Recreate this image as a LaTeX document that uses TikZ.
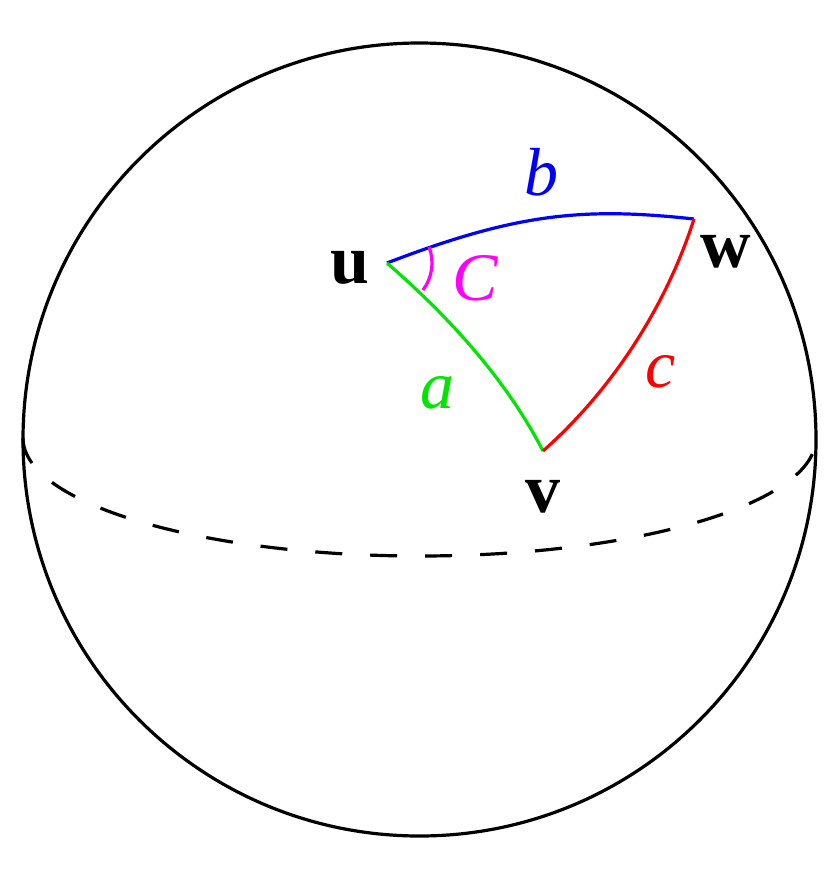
\documentclass[tikz,border=0pt]{standalone}
\usepackage{fontspec}
\setmainfont{Liberation Serif}
\definecolor{pmagenta}{RGB}{255,0,255}
\definecolor{pgreen}{RGB}{0,230,0}
\begin{document}
\begin{tikzpicture}[x=1pt,y=1pt,
  outline/.style={line width=3.2pt,black},
  equator/.style={line width=3.2pt,black,dash pattern=on 27pt off 28pt},
  side/.style={line width=3.2pt},
  vlabel/.style={anchor=base,inner sep=0pt,font=\fontsize{70}{80}\selectfont\bfseries},
  slabel/.style={anchor=base,inner sep=0pt,font=\fontsize{68}{78}\selectfont\itshape}]
\useasboundingbox (0,0) rectangle (840,-879);
\fill[white] (0,0) rectangle (840,-879);
\coordinate (O) at (419.5,-439.5);
\coordinate (E) at (419.5,-438);
\coordinate (u) at (387,-263);
\coordinate (v) at (543,-451);
\coordinate (w) at (694,-219);
\draw[outline] (O) circle[radius=396.5];
\draw[equator] ([xshift=-396.5pt]E) arc[start angle=180,end angle=360,x radius=396.5,y radius=118];
% sides
\draw[side,blue] (u) .. controls (517,-213) and (584,-207) .. (w);
\draw[side,pgreen] (u) .. controls (448,-316) and (506,-379) .. (v);
\draw[side,red] (v) .. controls (612,-390) and (666,-306.5) .. (w);
% angle
\draw[side,pmagenta] ([shift={(21:45pt)}]u) arc[start angle=21,end angle=-37,radius=45pt];
% labels
\node[vlabel] (lu) at (350,-283) {u};
\node[vlabel] (lw) at (726,-267) {w};
\node[vlabel] (lv) at (543,-512) {v};
\node[slabel,blue] (lb) at (541,-195) {b};
\node[slabel,pgreen] (la) at (437,-408) {a};
\node[slabel,red] (lc) at (661,-387) {c};
\node[slabel,pmagenta] (lC) at (475,-300) {C};
\end{tikzpicture}
\end{document}
